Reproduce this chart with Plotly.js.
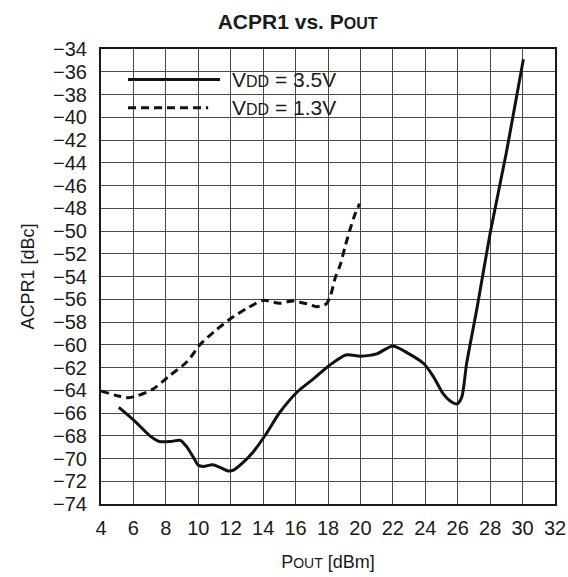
<!DOCTYPE html>
<html>
<head>
<meta charset="utf-8">
<script src="https://cdn.plot.ly/plotly-3.0.1.min.js"></script>
<style>html,body{margin:0;padding:0;background:#fff;}#chart{width:568px;height:577px;}</style>
</head>
<body>
<div id="chart"></div>
<script>
// VDD = 3.5V (solid)
const pout35 = [5.1, 6.0, 7.1, 7.6, 8.3, 8.9, 9.3, 9.7, 10.0, 10.3, 10.9, 11.3, 11.85, 12.2, 12.8, 13.4, 14.2, 15.0, 16.1, 17.1, 18.1, 19.1, 20.0, 21.0, 22.0, 23.0, 23.9, 24.5, 25.1, 25.5, 25.95, 26.25, 26.55, 27.2, 28.0, 29.0, 30.05];
const acpr35 = [-65.5, -66.6, -68.1, -68.5, -68.5, -68.4, -69.0, -69.9, -70.6, -70.7, -70.55, -70.75, -71.1, -71.0, -70.3, -69.4, -67.8, -66.0, -64.15, -63.0, -61.8, -60.9, -61.0, -60.8, -60.1, -60.8, -61.65, -62.8, -64.3, -64.9, -65.2, -64.6, -61.65, -56.7, -50.2, -43.1, -34.9];
// VDD = 1.3V (dashed)
const pout13 = [4.0, 4.9, 5.7, 6.2, 7.2, 8.25, 9.3, 10.1, 11.1, 12.0, 13.0, 14.0, 15.0, 15.85, 16.7, 17.3, 17.9, 18.15, 18.45, 18.75, 19.05, 19.35, 19.65, 19.95];
const acpr13 = [-64.05, -64.45, -64.65, -64.5, -63.9, -62.7, -61.5, -60.0, -58.7, -57.7, -56.8, -56.1, -56.35, -56.15, -56.4, -56.65, -56.4, -55.7, -54.1, -53.0, -51.4, -49.9, -48.6, -47.6];
const xTicks = [4, 6, 8, 10, 12, 14, 16, 18, 20, 22, 24, 26, 28, 30, 32];
const yTicks = [-34, -36, -38, -40, -42, -44, -46, -48, -50, -52, -54, -56, -58, -60, -62, -64, -66, -68, -70, -72, -74];
const seriesNames = ['V<span style="font-size:16px">DD</span> = 3.5V', 'V<span style="font-size:16px">DD</span> = 1.3V'];

const FONT = 'Liberation Sans, Arial, Helvetica, sans-serif';

const traces = [
  {x: pout35, y: acpr35, type: 'scatter', mode: 'lines', name: seriesNames[0],
   line: {color: '#111', width: 3, shape: 'spline', smoothing: 0.7}},
  {x: pout13, y: acpr13, type: 'scatter', mode: 'lines', name: seriesNames[1],
   line: {color: '#111', width: 3, dash: '8px,5px', shape: 'spline', smoothing: 0.7}}
];

const layout = {
  width: 568, height: 577,
  margin: {l: 101, r: 13, t: 49, b: 73},
  paper_bgcolor: '#fff', plot_bgcolor: '#fff',
  showlegend: false,
  font: {family: FONT, color: '#1a1a1a'},
  title: {text: '<b>ACPR1 vs. P<span style="font-size:16px">OUT</span></b>',
          font: {family: FONT, size: 21, color: '#1a1a1a'},
          xref: 'container', x: 0.524, xanchor: 'center',
          yref: 'container', y: 0.962, yanchor: 'middle'},
  xaxis: {range: [4, 32], tickvals: xTicks, ticktext: xTicks.map(String),
          showgrid: true, gridcolor: '#4a4a4a', gridwidth: 1, zeroline: false,
          showline: true, mirror: true, linecolor: '#1a1a1a', linewidth: 2,
          ticks: '', ticklabelstandoff: 5, tickfont: {size: 20, family: FONT, color: '#1a1a1a'},
          title: {text: 'P<span style="font-size:14px">OUT</span> [dBm]', font: {size: 18, family: FONT, color: '#1a1a1a'}, standoff: 17},
          fixedrange: true},
  yaxis: {range: [-74, -34], tickvals: yTicks,
          showgrid: true, gridcolor: '#4a4a4a', gridwidth: 1, zeroline: false,
          showline: true, mirror: true, linecolor: '#1a1a1a', linewidth: 2,
          ticks: '', ticklabelstandoff: 8, tickfont: {size: 20, family: FONT, color: '#1a1a1a'},
          title: {text: 'ACPR1 [dBc]', font: {size: 18, family: FONT, color: '#1a1a1a'}, standoff: 14},
          fixedrange: true},
  shapes: [
    {type: 'rect', xref: 'paper', yref: 'paper', x0: 0.026, x1: 0.542, y0: 0.827, y1: 0.977,
     fillcolor: '#fff', line: {width: 0}, layer: 'between'},
    {type: 'line', xref: 'paper', yref: 'paper', x0: 0.0595, x1: 0.262, y0: 0.933, y1: 0.933,
     line: {color: '#111', width: 3}},
    {type: 'line', xref: 'paper', yref: 'paper', x0: 0.0595, x1: 0.236, y0: 0.871, y1: 0.871,
     line: {color: '#111', width: 3, dash: '8px,5px'}}
  ],
  annotations: [
    {xref: 'paper', yref: 'paper', x: 0.284, y: 0.933, xanchor: 'left', yanchor: 'middle',
     text: seriesNames[0], showarrow: false, font: {size: 21, family: FONT, color: '#1a1a1a'}},
    {xref: 'paper', yref: 'paper', x: 0.284, y: 0.871, xanchor: 'left', yanchor: 'middle',
     text: seriesNames[1], showarrow: false, font: {size: 21, family: FONT, color: '#1a1a1a'}}
  ]
};

Plotly.newPlot('chart', traces, layout, {displayModeBar: false, staticPlot: true});
</script>
</body>
</html>
